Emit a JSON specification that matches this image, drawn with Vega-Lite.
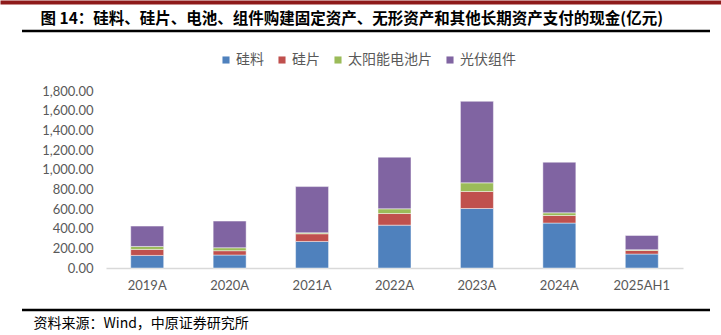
{
  "$schema": "https://vega.github.io/schema/vega-lite/v6.json",
  "width": 688,
  "height": 279,
  "autosize": {"type": "none"},
  "padding": {"left": 22, "top": 31, "right": 11, "bottom": 25},
  "background": "#ffffff",
  "config": {
    "view": {"stroke": "#000000", "strokeWidth": 2.5, "strokeDash": [688, 279, 688, 279]},
    "legend": {
      "orient": "none", "legendX": 197, "legendY": 22, "direction": "horizontal",
      "symbolType": "square", "symbolSize": 50, "symbolStrokeWidth": 0,
      "labelFont": "Noto Sans CJK SC", "labelFontSize": 14, "labelColor": "#595959",
      "columnPadding": 11, "labelOffset": 3, "title": null
    }
  },
  "data": {"values": [
    {"year": "2019A", "type": "硅料", "seq": 1, "value": 128},
    {"year": "2019A", "type": "硅片", "seq": 2, "value": 61},
    {"year": "2019A", "type": "太阳能电池片", "seq": 3, "value": 30},
    {"year": "2019A", "type": "光伏组件", "seq": 4, "value": 207},
    {"year": "2020A", "type": "硅料", "seq": 1, "value": 132},
    {"year": "2020A", "type": "硅片", "seq": 2, "value": 44},
    {"year": "2020A", "type": "太阳能电池片", "seq": 3, "value": 30},
    {"year": "2020A", "type": "光伏组件", "seq": 4, "value": 271},
    {"year": "2021A", "type": "硅料", "seq": 1, "value": 270},
    {"year": "2021A", "type": "硅片", "seq": 2, "value": 78},
    {"year": "2021A", "type": "太阳能电池片", "seq": 3, "value": 10},
    {"year": "2021A", "type": "光伏组件", "seq": 4, "value": 470},
    {"year": "2022A", "type": "硅料", "seq": 1, "value": 436},
    {"year": "2022A", "type": "硅片", "seq": 2, "value": 118},
    {"year": "2022A", "type": "太阳能电池片", "seq": 3, "value": 48},
    {"year": "2022A", "type": "光伏组件", "seq": 4, "value": 525},
    {"year": "2023A", "type": "硅料", "seq": 1, "value": 605},
    {"year": "2023A", "type": "硅片", "seq": 2, "value": 173},
    {"year": "2023A", "type": "太阳能电池片", "seq": 3, "value": 88},
    {"year": "2023A", "type": "光伏组件", "seq": 4, "value": 829},
    {"year": "2024A", "type": "硅料", "seq": 1, "value": 457},
    {"year": "2024A", "type": "硅片", "seq": 2, "value": 77},
    {"year": "2024A", "type": "太阳能电池片", "seq": 3, "value": 27},
    {"year": "2024A", "type": "光伏组件", "seq": 4, "value": 515},
    {"year": "2025AH1", "type": "硅料", "seq": 1, "value": 142},
    {"year": "2025AH1", "type": "硅片", "seq": 2, "value": 37},
    {"year": "2025AH1", "type": "太阳能电池片", "seq": 3, "value": 7},
    {"year": "2025AH1", "type": "光伏组件", "seq": 4, "value": 145}
  ]},
  "layer": [
    {
      "mark": {"type": "bar", "stroke": "#ffffff", "strokeOpacity": 0.45, "strokeWidth": 1},
      "encoding": {
        "x": {
          "field": "year", "type": "nominal", "sort": null,
          "scale": {"range": [84, 661], "paddingInner": 0.6, "paddingOuter": 0.3},
          "axis": {
            "orient": "bottom", "offset": -42, "labelAngle": 0,
            "domainColor": "#d9d9d9", "domainWidth": 1.5, "ticks": false,
            "labelFont": "Lato", "labelFontSize": 13, "labelColor": "#595959", "labelPadding": 11,
            "title": "资料来源：Wind，中原证券研究所",
            "titleFont": "Noto Sans CJK SC", "titleFontSize": 14, "titleFontWeight": "normal",
            "titleColor": "#000000", "titleAnchor": "start", "titleAlign": "left",
            "titleBaseline": "middle", "titleX": 11, "titleY": 55
          }
        },
        "y": {
          "field": "value", "type": "quantitative", "stack": "zero",
          "scale": {"domain": [0, 1800], "range": [237, 60], "nice": false},
          "axis": {
            "values": [0, 200, 400, 600, 800, 1000, 1200, 1400, 1600, 1800],
            "format": ",.2f", "offset": -71, "domain": false, "ticks": false, "grid": false,
            "labelPadding": 0, "labelFont": "Lato", "labelFontSize": 13, "labelColor": "#595959",
            "title": null
          }
        },
        "color": {
          "field": "type", "type": "nominal",
          "sort": ["硅料", "硅片", "太阳能电池片", "光伏组件"],
          "scale": {"domain": ["硅料", "硅片", "太阳能电池片", "光伏组件"], "range": ["#4F81BD", "#C0504D", "#9BBB59", "#8064A2"]}
        },
        "order": {"field": "seq", "type": "quantitative", "sort": "ascending"}
      }
    },
    {
      "mark": {"type": "point", "opacity": 0},
      "encoding": {
        "x": {
          "field": "value", "type": "quantitative",
          "scale": {"range": [-22, 699], "zero": true},
          "axis": {
            "orient": "top", "offset": 29, "domainColor": "#8E1B1B", "domainWidth": 4,
            "ticks": false, "labels": false, "grid": false,
            "title": "图 14：硅料、硅片、电池、组件购建固定资产、无形资产和其他长期资产支付的现金(亿元)",
            "titleFont": "Noto Sans CJK SC", "titleFontSize": 15.5, "titleFontWeight": "bold",
            "titleColor": "#000000", "titleAnchor": "start", "titleAlign": "left",
            "titleBaseline": "middle", "titleX": 18, "titleY": 16
          }
        }
      }
    }
  ],
  "resolve": {"scale": {"x": "independent"}, "axis": {"x": "independent"}}
}
